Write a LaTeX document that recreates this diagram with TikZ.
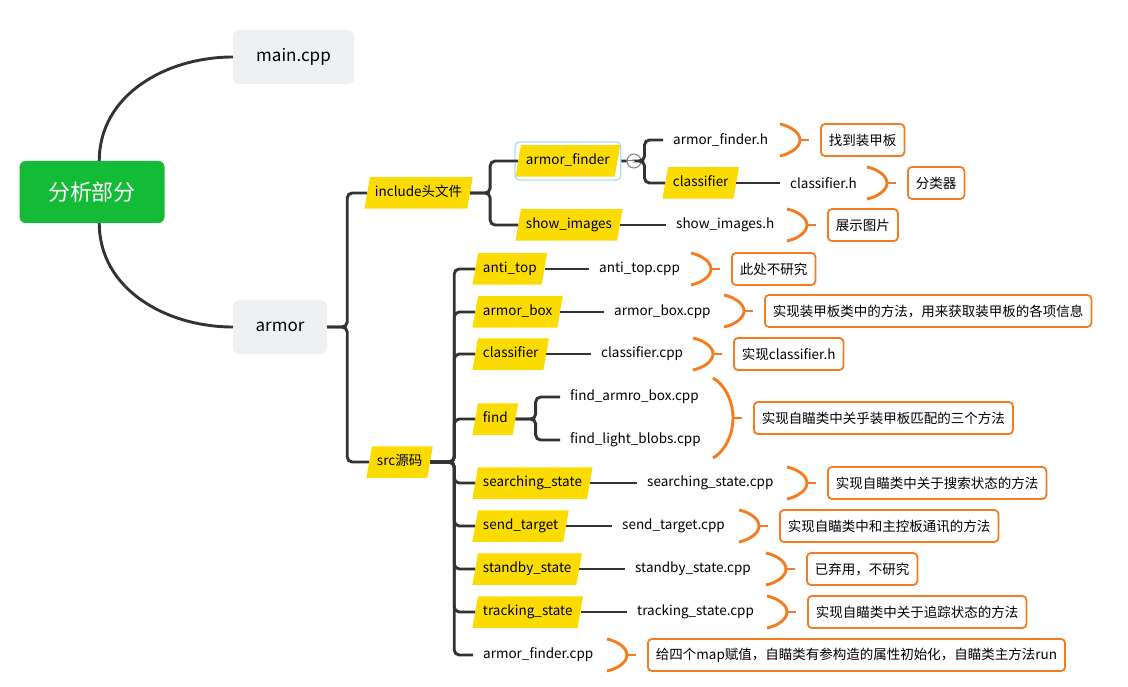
\documentclass[tikz,border=0pt]{standalone}
\usepackage{fontspec}
\setmainfont{Noto Sans CJK SC}
\usetikzlibrary{shapes.geometric, calc, fit}
\definecolor{linecol}{HTML}{333333}
\definecolor{rootgreen}{HTML}{13BB37}
\definecolor{topicbg}{HTML}{EEF1F4}
\definecolor{tagyellow}{HTML}{FCDC00}
\definecolor{notecol}{HTML}{F47B20}
\definecolor{selblue}{HTML}{A8DCF5}

% orange ")" brace in front of a note box
\newcommand{\notebrace}[2]{%
  \draw[brace] ($(#1.west)+(-40,-#2)$) .. controls +(11,0.15*#2) and +(0,-0.45*#2) .. ($(#1.west)+(-20,0)$)
    .. controls +(0,0.45*#2) and +(11,-0.15*#2) .. ($(#1.west)+(-40,#2)$);
  \draw[brace] ($(#1.west)+(-20,0)$) -- ($(#1.west)+(-11,0)$);}

\begin{document}
\begin{tikzpicture}[x=1pt, y=-1pt,
  link/.style={draw=linecol, line width=2.9pt, rounded corners=5pt},
  root/.style={fill=rootgreen, rounded corners=6pt, minimum width=145pt, minimum height=62pt, text=white, font=\fontsize{22}{26}\selectfont},
  topic/.style={fill=topicbg, rounded corners=6pt, minimum height=54pt, font=\fontsize{17}{20}\selectfont},
  tag/.style={trapezium, trapezium left angle=80, trapezium right angle=100, fill=tagyellow, text height=10pt, text depth=3.5pt, inner xsep=5pt, inner ysep=9pt, font=\fontsize{13.5}{16}\selectfont, anchor=west},
  file/.style={inner xsep=10pt, inner ysep=2pt, font=\fontsize{13.5}{16}\selectfont, anchor=west},
  note/.style={draw=notecol, fill=white, line width=1.8pt, rounded corners=4pt, minimum height=32pt, inner xsep=8pt, inner ysep=0pt, font=\fontsize{13.5}{16}\selectfont, anchor=west},
  brace/.style={draw=notecol, line width=2.9pt},
  selbox/.style={draw=selblue, line width=1.2pt, rounded corners=4pt, inner sep=3pt},
  fold/.style={circle, draw=gray, fill=white, line width=1pt, minimum size=14pt, inner sep=0pt,
    path picture={\draw[gray, line width=1pt] (path picture bounding box.west) -- (path picture bounding box.east);}}
]
\useasboundingbox (0,0) rectangle (1128,687);

\node[root] (root) at (92,192) {分析部分};
\node[topic, minimum width=121pt] (main) at (293.5,57) {main.cpp};
\node[topic, minimum width=94pt] (armor) at (280,327) {armor};

\draw[link] (main.west) to[out=180, in=90] ($(root.north west)!0.55!(root.north east)$);
\draw[link] (armor.west) to[out=180, in=-90] ($(root.south west)!0.55!(root.south east)$);

% include
\node[tag] (include) at (367,193) {include头文件};
\node[tag] (finder) at (518,161) {armor\_finder};
\node[selbox, fit=(finder)] (finderSel) {};
\node[fold] (fold) at (634,161) {};
\node[file] (finderh) at (663,140) {armor\_finder.h};
\node[tag] (classA) at (665,183) {classifier};
\node[file] (classh) at (780,183) {classifier.h};
\node[tag] (show) at (518,225) {show\_images};
\node[file] (showh) at (666,225) {show\_images.h};

\node[note] (noteFinder) at (820,140) {找到装甲板};
\node[note] (noteClass) at (907,183) {分类器};
\node[note] (noteShow) at (827,225) {展示图片};

\draw[link] (armor.east) -- ++(20,0) |- (include.west);
\draw[link] (include.east) -- ++(20,0) |- (finder.west);
\draw[link] (include.east) -- ++(20,0) |- (show.west);
\draw[link] (finderSel.east) -- (fold.west);
\draw[link] (fold.east) -- ++(3,0) |- (finderh.west);
\draw[link] (fold.east) -- ++(3,0) |- (classA.west);
\draw[link] (classA.east) -- (classh.west);
\draw[link] (show.east) -- (showh.west);

\notebrace{noteFinder}{16}
\notebrace{noteClass}{16}
\notebrace{noteShow}{16}

% src
\node[tag] (src) at (369,462) {src源码};
\node[tag] (antitop) at (475,269) {anti\_top};
\node[tag] (armorbox) at (475,312) {armor\_box};
\node[tag] (classB) at (475,354) {classifier};
\node[tag] (find) at (475,419) {find};
\node[tag] (searching) at (475,483) {searching\_state};
\node[tag] (sendtarget) at (475,526) {send\_target};
\node[tag] (standby) at (475,569) {standby\_state};
\node[tag] (tracking) at (475,612) {tracking\_state};

\node[file] (antitopcpp) at (589,269) {anti\_top.cpp};
\node[file] (armorboxcpp) at (604,312) {armor\_box.cpp};
\node[file] (classcpp) at (591,354) {classifier.cpp};
\node[file] (findboxcpp) at (560,397) {find\_armro\_box.cpp};
\node[file] (findblobscpp) at (560,440) {find\_light\_blobs.cpp};
\node[file] (searchingcpp) at (637,483) {searching\_state.cpp};
\node[file] (sendtargetcpp) at (612,526) {send\_target.cpp};
\node[file] (standbycpp) at (625,569) {standby\_state.cpp};
\node[file] (trackingcpp) at (627,612) {tracking\_state.cpp};
\node[file] (finderpp) at (473,655) {armor\_finder.cpp};

\node[note] (noteAnti) at (731,269) {此处不研究};
\node[note] (noteBox) at (764,311) {实现装甲板类中的方法，用来获取装甲板的各项信息};
\node[note] (noteClassB) at (733,354) {实现classifier.h};
\node[note] (noteFind) at (753,418) {实现自瞄类中关乎装甲板匹配的三个方法};
\node[note] (noteSearch) at (827,483) {实现自瞄类中关于搜索状态的方法};
\node[note] (noteSend) at (779,526) {实现自瞄类中和主控板通讯的方法};
\node[note] (noteStandby) at (806,569) {已弃用，不研究};
\node[note] (noteTrack) at (807,612) {实现自瞄类中关于追踪状态的方法};
\node[note] (noteFinderpp) at (647,655) {给四个map赋值，自瞄类有参构造的属性初始化，自瞄类主方法run};

\draw[link] (armor.east) -- ++(20,0) |- (src.west);
\foreach \child in {antitop, armorbox, classB, find, searching, sendtarget, standby, tracking, finderpp}
  \draw[link] (src.east) -- ++(24,0) |- (\child.west);

\draw[link] (antitop.east) -- (antitopcpp.west);
\draw[link] (armorbox.east) -- (armorboxcpp.west);
\draw[link] (classB.east) -- (classcpp.west);
\draw[link] (find.east) -- ++(20,0) |- (findboxcpp.west);
\draw[link] (find.east) -- ++(20,0) |- (findblobscpp.west);
\draw[link] (searching.east) -- (searchingcpp.west);
\draw[link] (sendtarget.east) -- (sendtargetcpp.west);
\draw[link] (standby.east) -- (standbycpp.west);
\draw[link] (tracking.east) -- (trackingcpp.west);

\notebrace{noteAnti}{16}
\notebrace{noteBox}{16}
\notebrace{noteClassB}{16}
\notebrace{noteFind}{40}
\notebrace{noteSearch}{16}
\notebrace{noteSend}{16}
\notebrace{noteStandby}{16}
\notebrace{noteTrack}{16}
\notebrace{noteFinderpp}{16}
\end{tikzpicture}
\end{document}
